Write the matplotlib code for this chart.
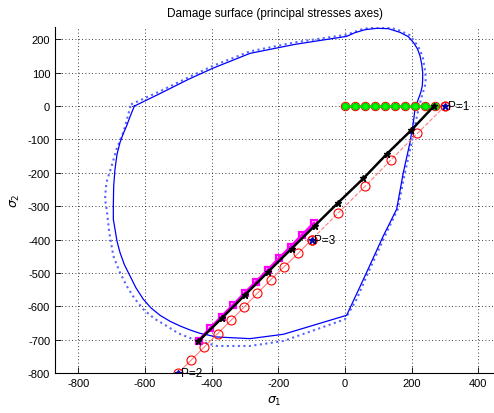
import numpy as np
import matplotlib
matplotlib.use('Agg')
import matplotlib.pyplot as plt

plt.rcParams['font.family'] = ['Liberation Sans', 'DejaVu Sans']
plt.rcParams['mathtext.fontset'] = 'dejavusans'
plt.rcParams['axes.unicode_minus'] = False

# damage surface, solid (current) and dotted (previous) contour
surf_x = [-632, -560, -470, -395, -285, -150, 5, 30, 60, 95, 130, 165, 190, 205, 217,
          225, 230, 233, 233, 232, 227, 220, 210, 205, 195, 175, 155, 115, 60, 5,
          -85, -185, -285, -385, -435, -465, -495, -525, -555, -582, -605, -627, -645, -662,
          -675, -684, -690, -695, -695, -694, -690, -684, -675, -665, -655, -645, -632]
surf_y = [0, 35, 80, 114, 158, 185, 209, 220, 229, 233, 232, 221, 208, 191, 172,
          151, 126, 101, 80, 61, 40, 21, -9, -49, -109, -199, -309, -389, -509, -627,
          -654, -684, -697, -692, -681, -671, -659, -645, -627, -605, -579, -545, -509, -475,
          -439, -405, -369, -340, -299, -240, -189, -145, -109, -82, -59, -32, 0]

old_x = [-642, -560, -470, -395, -285, -150, 5, 50, 95, 130, 165, 195, 220, 233, 241,
         242, 240, 228, 216, 200, 180, 158, 120, 65, 35, 0, -85, -185, -285, -385,
         -455, -500, -535, -572, -605, -632, -655, -677, -695, -707, -715, -720, -716, -700,
         -685, -665, -642]
old_y = [5, 42, 86, 121, 164, 191, 214, 230, 238, 237, 226, 212, 178, 148, 101,
         80, 61, 21, -29, -109, -199, -309, -389, -509, -579, -639, -669, -704, -719, -719,
         -699, -681, -659, -637, -609, -576, -539, -495, -449, -380, -309, -279, -230, -179,
         -128, -79, 5]

# loading path along sigma_1 (P=1 branch)
path0_x = [0, 30, 60, 90, 120, 150, 180, 210, 240, 270, 300]
path0_y = [0, 0, 0, 0, 0, 0, 0, 0, 0, 0, 0]
green_x = [0, 30, 60, 90, 120, 150, 180, 210, 240, 270]
green_y = [0, 0, 0, 0, 0, 0, 0, 0, 0, 0]

# P=1 -> P=3 -> P=2
path1_x = [300, 217, 138, 60, -20, -100]
path1_y = [0, -82, -161, -241, -320, -400]
path2_x = [-100, -140, -182, -223, -263, -302, -342, -382, -422, -462, -502]
path2_y = [-400, -441, -481, -521, -561, -602, -642, -682, -722, -762, -801]

black_x = [267, 198, 125, 55, -20, -90, -160, -230, -300, -370, -440]
black_y = [0, -73, -144, -217, -289, -358, -427, -496, -566, -636, -705]

mag_x = [-93, -128, -162, -197, -231, -266, -301, -335, -370, -404, -439]
mag_y = [-351, -386, -421, -456, -491, -526, -561, -596, -631, -666, -703]

pts_x = [300, -500, -100]
pts_y = [0, -800, -400]
pts_lbl = ['P=1', 'P=2', 'P=3']

fig = plt.figure(figsize=(4.94, 4.14), dpi=100)
ax = fig.add_axes([55/494, 40/414, 1 - 55/494, 346/414])

ax.plot(old_x, old_y, ':', color='#5566ff', lw=1.5)
ax.plot(surf_x, surf_y, '-', color='#0000ff', lw=0.9)

ax.plot(path0_x, path0_y, '-', color='#ff8080', lw=0.8, marker='o', ms=6,
        mfc='none', mec='r', mew=0.8)
ax.plot(green_x, green_y, '-', color='#00dd00', lw=2, marker='o', ms=4.5,
        mfc='#00ff00', mec='#00cc00')
ax.plot(path1_x, path1_y, '--', color='#ff8080', lw=0.8, marker='o', ms=6.5,
        mfc='none', mec='r', mew=0.8)
ax.plot(path2_x, path2_y, '-', color='#ff8080', lw=0.8, marker='o', ms=6.5,
        mfc='none', mec='r', mew=0.8)
ax.plot(mag_x, mag_y, '-', color='#ff00ff', lw=2.2, marker='s', ms=4.5,
        mfc='none', mec='#ff00ff', mew=1.6)
ax.plot(black_x, black_y, '-', color='k', lw=1.8, marker='*', ms=5, mfc='k', mec='k')

ax.plot(pts_x, pts_y, '*', color='#0000aa', ms=5, ls='none')
for px, py, t in zip(pts_x, pts_y, pts_lbl):
    ax.text(px + 8, py, t, fontsize=8.5, va='center', ha='left')

ax.set_xlim(-870, 447)
ax.set_ylim(-800, 237)
ax.set_xticks(np.arange(-800, 401, 200))
ax.set_yticks(np.arange(-800, 201, 100))
ax.grid(True, ls=(0, (1, 3)), color='k', lw=0.6)
ax.tick_params(direction='in', length=4, labelsize=8, width=0.6)
for side in ['top', 'right']:
    ax.spines[side].set_visible(False)
for side in ['left', 'bottom']:
    ax.spines[side].set_linewidth(0.8)

ax.set_title('Damage surface (principal stresses axes)', fontsize=8.5, pad=8)
ax.set_xlabel(r'$\sigma_1$', fontsize=9)
ax.set_ylabel(r'$\sigma_2$', fontsize=9)

fig.savefig('out.png', dpi=100)
